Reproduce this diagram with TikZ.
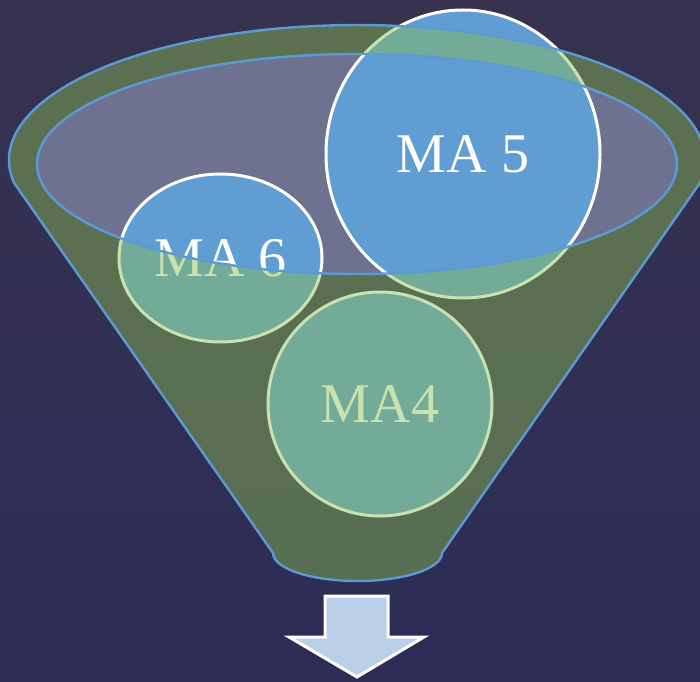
\documentclass[tikz,border=0pt]{standalone}
\usepackage{fontspec}
\setmainfont{Liberation Serif}
\usetikzlibrary{shapes.geometric}
\definecolor{bgtop}{RGB}{54,50,80}
\definecolor{bgbot}{RGB}{45,44,86}
\definecolor{rimgreen}{RGB}{139,190,80}
\definecolor{edgeblue}{RGB}{91,155,213}
\definecolor{ballblue}{RGB}{95,157,210}
\definecolor{holefill}{RGB}{110,114,144}
\definecolor{arrowfill}{RGB}{185,207,232}
\tikzset{
  ball/.style={ellipse, fill=ballblue, draw=white, line width=3pt, inner sep=0pt,
    text=white, font=\fontsize{56}{60}\selectfont},
  rimedge/.style={draw=edgeblue, line width=2.4pt},
}
\begin{document}
\begin{tikzpicture}[x=1pt,y=1pt]
\useasboundingbox (0,0) rectangle (700,681);
\shade[top color=bgtop, bottom color=bgbot] (0,0) rectangle (700,681);
% hole of the funnel
\fill[holefill] (357,517) ellipse[x radius=320pt, y radius=110pt];
% balls
\node[ball, minimum width=224pt, minimum height=224pt] (ma4) at (380,277) {MA4};
\node[ball, minimum width=203pt, minimum height=168pt] (ma6) at (220.5,423) {MA 6};
\node[ball, minimum width=274pt, minimum height=288pt] (ma5) at (463,527) {MA 5};
% translucent funnel body with hole
\fill[rimgreen, fill opacity=0.45, even odd rule]
  (14.1,498) arc[start angle=189.8, end angle=-9.8, x radius=348pt, y radius=135pt]
  -- (442,128) arc[start angle=0, end angle=-180, x radius=84.5pt, y radius=28pt]
  -- cycle
  (357,517) ellipse[x radius=320pt, y radius=110pt];
\draw[rimedge]
  (14.1,498) arc[start angle=189.8, end angle=-9.8, x radius=348pt, y radius=135pt]
  -- (442,128) arc[start angle=0, end angle=-180, x radius=84.5pt, y radius=28pt]
  -- cycle;
\draw[rimedge] (357,517) ellipse[x radius=320pt, y radius=110pt];
% output arrow
\draw[fill=arrowfill, draw=white, line width=3pt, line join=miter]
  (325,85) -- (388,85) -- (388,44) -- (424,44) -- (357,4) -- (289,44) -- (325,44) -- cycle;
\end{tikzpicture}
\end{document}
